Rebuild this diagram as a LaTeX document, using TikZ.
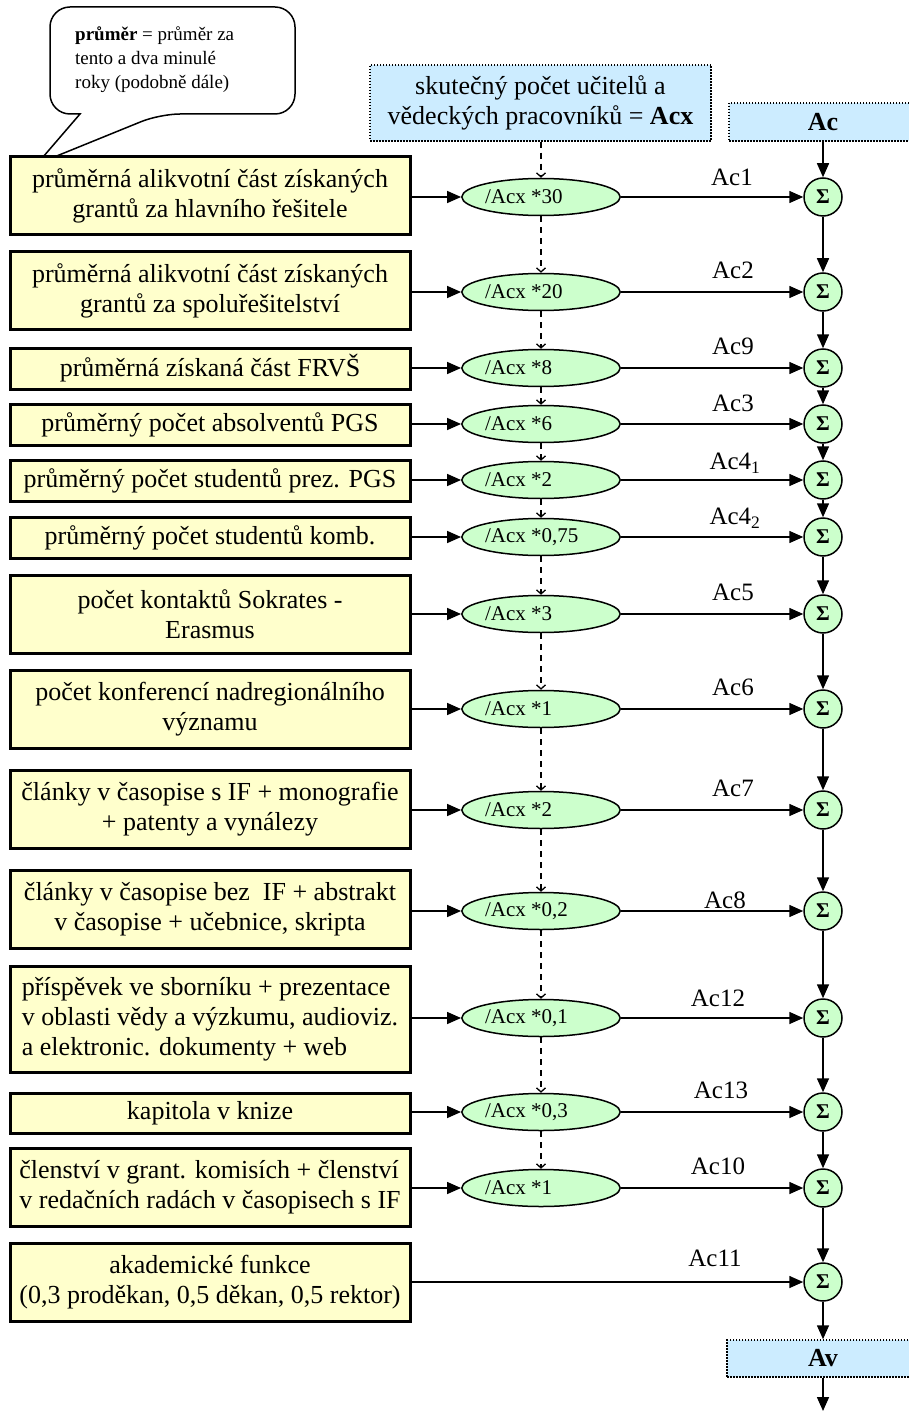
\documentclass[tikz,border=0pt]{standalone}
\usepackage{fontspec}
\setmainfont{Liberation Serif}
\usetikzlibrary{arrows.meta,shapes.geometric}
\definecolor{critfill}{HTML}{FFFFCC}
\definecolor{ratiofill}{HTML}{CCFFCC}
\definecolor{totalfill}{HTML}{CCECFF}

\begin{document}
\begin{tikzpicture}[x=1pt, y=-1pt,
		crit/.style={draw, line width=3pt, fill=critfill, minimum width=400pt, minimum height=78pt,
			inner sep=2pt, align=center, font=\fontsize{26}{30}\selectfont},
		ratio/.style={ellipse, draw, line width=1.5pt, fill=ratiofill, minimum width=152pt,
			minimum height=37pt, inner sep=0pt, font=\fontsize{21}{24}\selectfont},
		sumnode/.style={circle, draw, line width=1.5pt, fill=ratiofill, minimum size=38pt,
			inner sep=0pt, font=\fontsize{21}{21}\selectfont\bfseries},
		total/.style={draw, line width=1.5pt, dash pattern=on 1.5pt off 1.5pt, fill=totalfill,
			inner sep=2pt, align=center, font=\fontsize{26}{30}\selectfont},
		flow/.style={line width=1.5pt, -{Triangle[length=14pt,width=12pt]}},
		feed/.style={line width=1.3pt, dash pattern=on 6pt off 5pt, -{Straight Barb[length=4pt,width=9pt]}},
		lab/.style={font=\fontsize{25}{28}\selectfont}
		]
	\useasboundingbox (0,0) rectangle (909,1412);

	% note bubble
	\draw[line width=1.5pt, fill=white, rounded corners=20pt] (80,114) -- (50,114) -- (50,7)
		-- (295,7) -- (295,114) -- (160,114) [sharp corners] -- (37,164) -- cycle;
	\node[anchor=north west, align=left, inner sep=0pt, font=\fontsize{19}{24}\selectfont] (note)
		at (75,27) {\textbf{průměr} = průměr za\\ tento a dva minulé\\ roky (podobně dále)};

	% totals
	\node[total, minimum width=341pt, minimum height=76pt] (acx) at (540.5,103)
		{skutečný počet učitelů a\\ vědeckých pracovníků = \textbf{Acx}};
	\node[total, minimum width=188pt, minimum height=38pt, font=\fontsize{26}{30}\selectfont\bfseries] (ac) at (823,122) {Ac};
	\node[total, minimum width=192pt, minimum height=37pt, font=\fontsize{26}{30}\selectfont\bfseries] (av) at (823,1358.5) {Av};
	\coordinate (out) at (823,1411);

	% criteria
	\node[crit] (b1) at (210,196) {průměrná alikvotní část získaných\\ grantů za hlavního řešitele};
	\node[crit] (b2) at (210,290.5) {průměrná alikvotní část získaných\\ grantů za spoluřešitelství};
	\node[crit, minimum height=41pt] (b3) at (210,368.5) {průměrná získaná část FRVŠ};
	\node[crit, minimum height=41pt] (b4) at (210,424.5) {průměrný počet absolventů PGS};
	\node[crit, minimum height=41pt] (b5) at (210,480.5) {průměrný počet studentů prez. PGS};
	\node[crit, minimum height=41pt] (b6) at (210,537.5) {průměrný počet studentů komb.};
	\node[crit] (b7) at (210,614) {počet kontaktů Sokrates -\\ Erasmus};
	\node[crit] (b8) at (210,709) {počet konferencí nadregionálního\\ významu};
	\node[crit] (b9) at (210,809) {články v časopise s IF + monografie\\ + patenty a vynálezy};
	\node[crit] (b10) at (210,909) {články v časopise bez\ \ IF + abstrakt\\ v časopise + učebnice, skripta};
	\node[crit, minimum height=106pt, align=left] (b11) at (210,1019)
		{příspěvek ve sborníku + prezentace\\ v oblasti vědy a výzkumu, audioviz.\\ a elektronic. dokumenty + web};
	\node[crit, minimum height=40pt] (b12) at (210,1113) {kapitola v knize};
	\node[crit, align=left] (b13) at (210,1187.5) {členství v grant. komisích + členství\\ v redačních radách v časopisech s IF};
	\node[crit] (b14) at (210,1282) {akademické funkce\\ (0,3 proděkan, 0,5 děkan, 0,5 rektor)};

	% ratios, sums and labels
	\foreach \i/\y/\f/\txt/\lx/\ly in {1/197/30/Ac1/732/177, 2/292/20/Ac2/733/270, 3/368/8/Ac9/733/346,
			4/424/6/Ac3/733/403, 5/480/2/Ac4\textsubscript{1}/735/463, 6/537/{0,75}/Ac4\textsubscript{2}/735/518,
			7/614/3/Ac5/733/592, 8/709/1/Ac6/733/687, 9/810/2/Ac7/733/788, 10/911/{0,2}/Ac8/725/900,
			11/1018/{0,1}/Ac12/718/998, 12/1112/{0,3}/Ac13/721/1090, 13/1188/1/Ac10/718/1166} {
		\node[ratio] (e\i) at (541,\y) {\makebox[112pt][l]{/Acx *\f}};
		\node[sumnode] (s\i) at (823,\y) {Σ};
		\node[lab] at (\lx,\ly) {\txt};
		\draw[flow] (b\i.east |- e\i.west) -- (e\i.west);
		\draw[flow] (e\i) -- (s\i);
	}
	\node[sumnode] (s14) at (823,1282) {Σ};
	\node[lab] at (715,1258) {Ac11};
	\draw[flow] (b14.east |- s14.west) -- (s14.west);

	% vertical connectors
	\draw[feed] (acx.south -| e1) -- (e1.north);
	\foreach \i [count=\j from 2] in {1,...,12}
		\draw[feed] (e\i.south) -- (e\j.north);
	\draw[flow] (ac) -- (s1);
	\foreach \i [count=\j from 2] in {1,...,13}
		\draw[flow] (s\i) -- (s\j);
	\draw[flow] (s14) -- (av);
	\draw[flow] (av) -- (out);
\end{tikzpicture}
\end{document}
